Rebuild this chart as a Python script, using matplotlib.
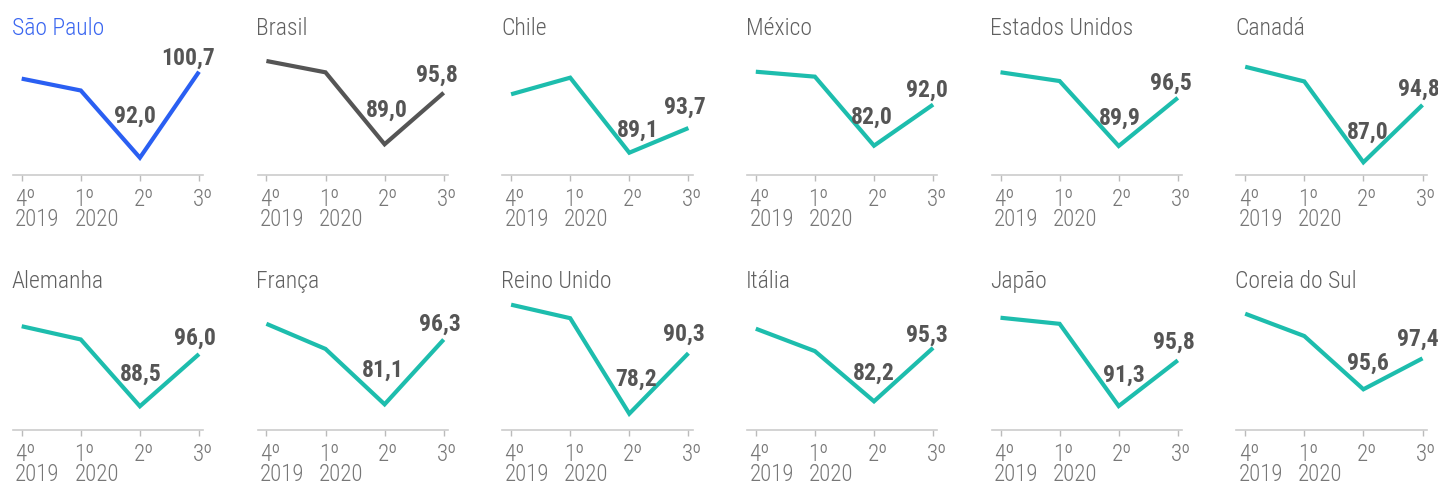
import matplotlib
matplotlib.use('Agg')
import matplotlib.pyplot as plt
from matplotlib.transforms import ScaledTranslation

plt.rcParams['font.family'] = ['Liberation Sans Narrow', 'Roboto Condensed', 'Roboto', 'DejaVu Sans']

# Data: PIB trimestral, índice (4º tri 2019 = 100)
regions = ['São Paulo', 'Brasil', 'Chile', 'México', 'Estados Unidos', 'Canadá',
           'Alemanha', 'França', 'Reino Unido', 'Itália', 'Japão', 'Coreia do Sul']
quarters = ['4º\n2019', '1º\n2020', '2º', '3º']
q4_2019 = [100.0, 100.0, 100.0, 100.0, 100.0, 100.0, 100.0, 100.0, 100.0, 100.0, 100.0, 100.0]
q1_2020 = [98.8, 98.5, 103.1, 98.8, 98.8, 98.0, 98.1, 94.1, 97.3, 94.5, 99.4, 98.7]
q2_2020 = [92.0, 89.0, 89.1, 82.0, 89.9, 87.0, 88.5, 81.1, 78.2, 82.2, 91.3, 95.6]
q3_2020 = [100.7, 95.8, 93.7, 92.0, 96.5, 94.8, 96.0, 96.3, 90.3, 95.3, 95.8, 97.4]

# layout: each panel has its own vertical scale
ylims = [(90.25, 103.91), (84.94, 102.77), (84.94, 110.13), (74.87, 107.72),
         (85.93, 104.42), (85.27, 103.64), (85.09, 104.49), (75.07, 106.76),
         (74.94, 101.94), (75.17, 108.26), (88.94, 102.24), (93.23, 101.09)]
low_dx = [-5, 2, 9, -2, 1, 4, 1, -2, 7, 0, 5.5, 5]
low_dy = [35, 27.6, 16, 22.4, 21, 24, 26, 28, 28, 21.6, 24, 20]
end_dx = [-11, -6.3, -4, -6.6, -6.6, -3.3, -4.5, -3.7, -4, -6.4, -3.7, -4.3]
end_dy = [6.7, 10.7, 14, 8.3, 8.3, 9, 9, 9, 12.7, 6.4, 11.6, 12.4]

teal = '#1dbdad'
line_colors = ['#2a5ff2', '#555555'] + [teal] * 10
title_colors = ['#3a66f0'] + ['#606060'] * 11

W, H = 1438, 486
fig = plt.figure(figsize=(W / 100, H / 100), dpi=100)

px_unit = 59.1
axis_y = [175, 430]
title_y = [35, 288]
ax_h = 135

for i, name in enumerate(regions):
    r, c = divmod(i, 6)
    x0 = 21.7 + 244.7 * c
    left = x0 - 0.15 * px_unit
    width = 3.22 * px_unit
    bottom = H - axis_y[r]
    ax = fig.add_axes([left / W, bottom / H, width / W, ax_h / H])
    vals = [q4_2019[i], q1_2020[i], q2_2020[i], q3_2020[i]]
    ax.plot(range(4), vals, color=line_colors[i], lw=3,
            solid_joinstyle='miter', solid_capstyle='butt')
    ax.set_xlim(-0.15, 3.07)
    ax.set_ylim(*ylims[i])
    for s in ['top', 'right', 'left']:
        ax.spines[s].set_visible(False)
    ax.spines['bottom'].set_color('#cccccc')
    ax.spines['bottom'].set_linewidth(1.2)
    ax.set_yticks([])
    ax.set_xticks(range(4))
    ax.set_xticklabels(quarters, ha='left', fontsize=16.5, color='#777777',
                       fontweight='light', linespacing=0.86)
    ax.tick_params(axis='x', length=4, width=1, color='#bbbbbb', pad=5)
    off = ScaledTranslation(-6.5 / 100, 0, fig.dpi_scale_trans)
    for lab in ax.get_xticklabels():
        lab.set_transform(lab.get_transform() + off)
    ax.patch.set_visible(False)

    fmt = lambda v: f'{v:.1f}'.replace('.', ',')
    ax.annotate(fmt(q2_2020[i]), (2, q2_2020[i]), xytext=(low_dx[i], low_dy[i]),
                textcoords='offset pixels', ha='center', va='baseline',
                fontsize=17, fontweight='bold', color='#555555')
    ax.annotate(fmt(q3_2020[i]), (3, q3_2020[i]), xytext=(end_dx[i], end_dy[i]),
                textcoords='offset pixels', ha='center', va='baseline',
                fontsize=17, fontweight='bold', color='#555555',
                annotation_clip=False)

    fig.text((x0 - 10) / W, 1 - title_y[r] / H, name, ha='left', va='baseline',
             fontsize=17, fontweight='light', color=title_colors[i])

fig.savefig('out.png', dpi=100)
